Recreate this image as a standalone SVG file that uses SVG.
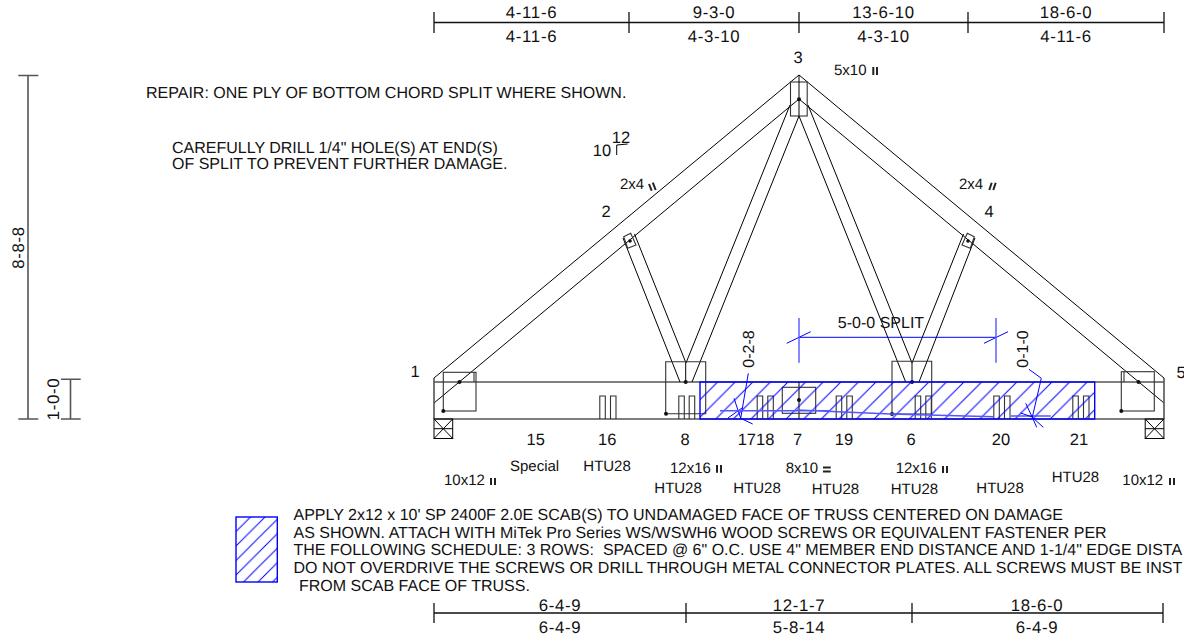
<svg xmlns="http://www.w3.org/2000/svg" width="1184" height="638" viewBox="0 0 1184 638">
<style>
text{font-family:"Liberation Sans",Arial,sans-serif;fill:#111;text-rendering:geometricPrecision}
.d{font-size:16.8px;letter-spacing:.7px;text-anchor:middle}
.n{font-size:16.5px;text-anchor:middle}
.l{font-size:15px}
.b{font-size:16px}
.r{font-size:16px}
.k{fill:none;stroke:#000;stroke-width:1}
.g{fill:none;stroke:#555;stroke-width:1.6}
.bl{fill:none;stroke:#00f;stroke-width:1}
.lb{fill:none;stroke:#55f;stroke-width:1.4}
.dm{fill:none;stroke:#111;stroke-width:1.3}
.m{fill:none;stroke:#222;stroke-width:2}
.t{fill:none;stroke:#333;stroke-width:1.1}
.dot{fill:#111}
</style>
<defs>
<pattern id="h1" patternUnits="userSpaceOnUse" width="17.6" height="17.6" x="700" y="382"><path d="M-1 18.6L18.6-1M-1 1L1-1M16.6 18.6L18.6 16.6" stroke="#00f" stroke-width="1" fill="none"/></pattern>
<pattern id="h2" patternUnits="userSpaceOnUse" width="14.5" height="14.5" x="236" y="517"><path d="M-1 15.5L15.5-1M-1 1L1-1M13.5 15.5L15.5 13.5" stroke="#00f" stroke-width="1" fill="none"/></pattern>
<g id="sup"><rect class="k" x="0" y="0" width="18.7" height="19.5"/><path class="k" d="M0 0L18.7 19.5M18.7 0L0 19.5M0 9.7H18.7"/></g>
</defs>

<g id="connectors">
<path class="k" d="M434 378L799 75L1164 378"/>
<path class="k" d="M434 403L799 99L1164 403"/>
<path class="g" d="M434 378V419M1164 378V419M434 419H1164M434 382H1164"/>
<path class="k" d="M790 105L686 363L634.5 234M799 116L692 382M623 238L680 382"/>
<path class="k" d="M808 105L912 363L963.5 234M799 116L905.7 382M975 238L919 382"/>
<path class="k" d="M685.7 363V382M912 363V382M799 382V419"/>
</g>

<g id="dim-top">
<path class="dm" d="M434 22.5H1164M434 12V33M629 12V33M799 12V33M968 12V33M1164 12V33"/>
<text class="d" x="531.5" y="18.3">4-11-6</text><text class="d" x="531.5" y="41.7">4-11-6</text>
<text class="d" x="714" y="18.3">9-3-0</text><text class="d" x="714" y="41.7">4-3-10</text>
<text class="d" x="883.5" y="18.3">13-6-10</text><text class="d" x="883.5" y="41.7">4-3-10</text>
<text class="d" x="1066" y="18.3">18-6-0</text><text class="d" x="1066" y="41.7">4-11-6</text>
</g>
<g id="dim-bottom">
<path class="dm" d="M434 613H1163M434 603V623M686 603V623M912 603V623M1163 603V623"/>
<text class="d" x="560" y="610.7">6-4-9</text><text class="d" x="560" y="633">6-4-9</text>
<text class="d" x="799" y="610.7">12-1-7</text><text class="d" x="799" y="633">5-8-14</text>
<text class="d" x="1037" y="610.7">18-6-0</text><text class="d" x="1037" y="633">6-4-9</text>
</g>
<g id="dim-left">
<path class="g" d="M28 75.5V419M18.3 75.5H38.3M18.3 419H38.3M70.5 379.3V419M61 379.3H80.7M61 419H80.7"/>
<text class="d" transform="translate(24 247.5) rotate(-90)">8-8-8</text>
<text class="d" transform="translate(59 399) rotate(-90)">1-0-0</text>
</g>

<g id="notes">
<text class="r" x="146" y="98">REPAIR: ONE PLY OF BOTTOM CHORD SPLIT WHERE SHOWN.</text>
<text class="r" x="172" y="153">CAREFULLY DRILL 1/4" HOLE(S) AT END(S)</text>
<text class="r" x="172" y="169">OF SPLIT TO PREVENT FURTHER DAMAGE.</text>
</g>
<g id="pitch">
<text class="n" x="602" y="156">10</text><text class="n" x="621" y="143.3">12</text>
<path class="k" d="M616.7 155V145L627.7 144"/>
</g>

<g id="n1"><text class="n" x="415" y="377">1</text>
<rect class="t" x="443.3" y="372.3" width="32.7" height="38.7"/><path class="t" d="M474 372.3V382"/>
<circle class="dot" cx="459.5" cy="382" r="2"/><circle class="dot" cx="443.3" cy="411" r="2"/>
<use href="#sup" x="434" y="419"/>
<text class="l" x="444" y="485">10x12</text><path class="m" d="M491 478V485M495 478V485"/></g>
<g id="n2"><text class="n" x="606" y="217">2</text>
<path class="t" d="M623.7 236.7L630.7 233.3L636 245L627.7 248.3Z"/><circle class="dot" cx="630" cy="241" r="1.8"/>
<text class="l" x="620" y="189">2x4</text><path class="m" d="M649 184L651.7 190.7M652.8 182.7L655.7 190"/></g>
<g id="n3"><text class="n" x="798" y="63">3</text>
<rect class="t" x="790.5" y="82" width="16.7" height="34"/><path class="k" d="M799 75V116"/><circle class="dot" cx="799" cy="99.3" r="2"/>
<text class="l" x="834" y="75">5x10</text><path class="m" d="M873.3 67V75M877 67V75"/></g>
<g id="n4"><text class="n" x="989" y="217">4</text>
<path class="t" d="M974.3 236.7L967.3 233.3L962 245L970.3 248.3Z"/><circle class="dot" cx="968" cy="241" r="1.8"/>
<text class="l" x="959" y="189">2x4</text><path class="m" d="M989.3 190L991.7 182.7M993.3 190L995.7 182.7"/></g>
<g id="n5"><text class="n" x="1181" y="378">5</text>
<rect class="t" x="1121.3" y="371.7" width="33" height="39.3"/><path class="t" d="M1124 371.7V382"/>
<circle class="dot" cx="1138.5" cy="382" r="2"/><circle class="dot" cx="1121.3" cy="411" r="2"/>
<use href="#sup" x="1145.2" y="419"/>
<text class="l" x="1122.3" y="485">10x12</text><path class="m" d="M1170 478V485M1174 478V485"/></g>
<g id="n15"><text class="n" x="535.7" y="445">15</text><text class="l" x="510" y="471">Special</text></g>
<g id="n16"><text class="n" x="607.3" y="445">16</text><text class="l" x="583.3" y="471">HTU28</text>
<path class="t" d="M599.8 419V396H605.3V419M610.5 419V396H616V419"/></g>
<g id="n8"><text class="n" x="685" y="445">8</text>
<path class="t" d="M705.7 382V361.7H665.7V413.7H705.7V382"/><circle class="dot" cx="666" cy="413.7" r="2"/><circle class="dot" cx="685.7" cy="382" r="2"/>
<path class="t" d="M678.8 419V396H684.3V419M689.2 419V396H694.7V419"/>
<text class="l" x="670" y="472.7">12x16</text><path class="m" d="M717 465V472.7M721 465V472.7"/>
<text class="l" x="654.3" y="493.3">HTU28</text></g>
<g id="n1718"><text class="n" x="756" y="445">1718</text><text class="l" x="733.3" y="493.3">HTU28</text>
<path class="t" d="M757.2 419V396H762.7V419M767.8 419V396H773.3V419"/></g>
<g id="n7"><text class="n" x="797.7" y="445">7</text>
<rect class="t" x="782.3" y="387.3" width="33.4" height="26"/><circle class="dot" cx="799" cy="400" r="2"/>
<text class="l" x="785.7" y="472.7">8x10</text><path class="m" d="M823 467.5H830.7M823 471.5H830.7"/>
<text class="l" x="811.7" y="494">HTU28</text></g>
<g id="n19"><text class="n" x="844" y="445">19</text>
<path class="t" d="M836.2 419V396H841.7V419M846.8 419V396H852.3V419"/></g>
<g id="n6"><text class="n" x="911" y="445">6</text>
<path class="t" d="M931.7 382V361.3H892V414H931.7V382"/><circle class="dot" cx="892" cy="414" r="2"/><circle class="dot" cx="912" cy="382" r="2"/>
<path class="t" d="M915.2 419V396H920.7V419M925.8 419V396H931.3V419"/>
<text class="l" x="895.7" y="473">12x16</text><path class="m" d="M943 466V473M947 466V473"/>
<text class="l" x="890.7" y="494">HTU28</text></g>
<g id="n20"><text class="n" x="1001" y="445">20</text><text class="l" x="976.3" y="492.7">HTU28</text>
<path class="t" d="M993.8 419V396H999.3V419M1004.5 419V396H1010V419"/></g>
<g id="n21"><text class="n" x="1079" y="445">21</text><text class="l" x="1051.7" y="481.7">HTU28</text>
<path class="t" d="M1072.8 419V396H1078.3V419M1083.5 419V396H1089V419"/></g>

<g id="scab">
<rect x="700" y="382" width="394.7" height="37" fill="url(#h1)" stroke="#00f" stroke-width="1.4"/>
</g>
<g id="split">
<path class="bl" d="M799 337.3H996M786.7 343.3L810.7 331.7M984 343.3L1008 331.7"/>
<path class="lb" d="M799 318V362.7M996 318V362.7"/>
<text class="n" style="font-size:16px" x="881" y="328.3">5-0-0 SPLIT</text>
</g>
<g id="leaders">
<path class="bl" d="M748.3 373.3L740.7 418.3L752.7 424M734 398.3L740.7 418.3M728 418L742 408"/>
<path class="lb" d="M720 410.7H830M797 410L890.7 414L994 416.7M1010.7 416H1050.7"/>
<path class="bl" d="M1029 369.3L1041.3 378.3L1032.3 417.3L1043.3 427.3M1025.7 403.3L1032.3 417.3L1036.7 427.3M1020.7 413L1032.3 417"/>
<text class="n" style="font-size:16px" transform="translate(754 349) rotate(-90)">0-2-8</text>
<text class="n" style="font-size:16px" transform="translate(1028.3 349) rotate(-90)">0-1-0</text>
</g>

<g id="legend">
<rect x="236" y="517" width="41.3" height="65" fill="url(#h2)" stroke="#00f" stroke-width="1.4"/>
<text class="b" x="293.5" y="520">APPLY 2x12 x 10' SP 2400F 2.0E SCAB(S) TO UNDAMAGED FACE OF TRUSS CENTERED ON DAMAGE</text>
<text class="b" x="293.5" y="538">AS SHOWN. ATTACH WITH MiTek Pro Series WS/WSWH6 WOOD SCREWS OR EQUIVALENT FASTENER PER</text>
<text class="b" x="293.5" y="555.3" xml:space="preserve">THE FOLLOWING SCHEDULE: 3 ROWS:  SPACED @ 6" O.C. USE 4" MEMBER END DISTANCE AND 1-1/4" EDGE DISTA</text>
<text class="b" x="293.5" y="572.7">DO NOT OVERDRIVE THE SCREWS OR DRILL THROUGH METAL CONNECTOR PLATES. ALL SCREWS MUST BE INST</text>
<text class="b" x="299" y="590.5">FROM SCAB FACE OF TRUSS.</text>
</g>
</svg>
